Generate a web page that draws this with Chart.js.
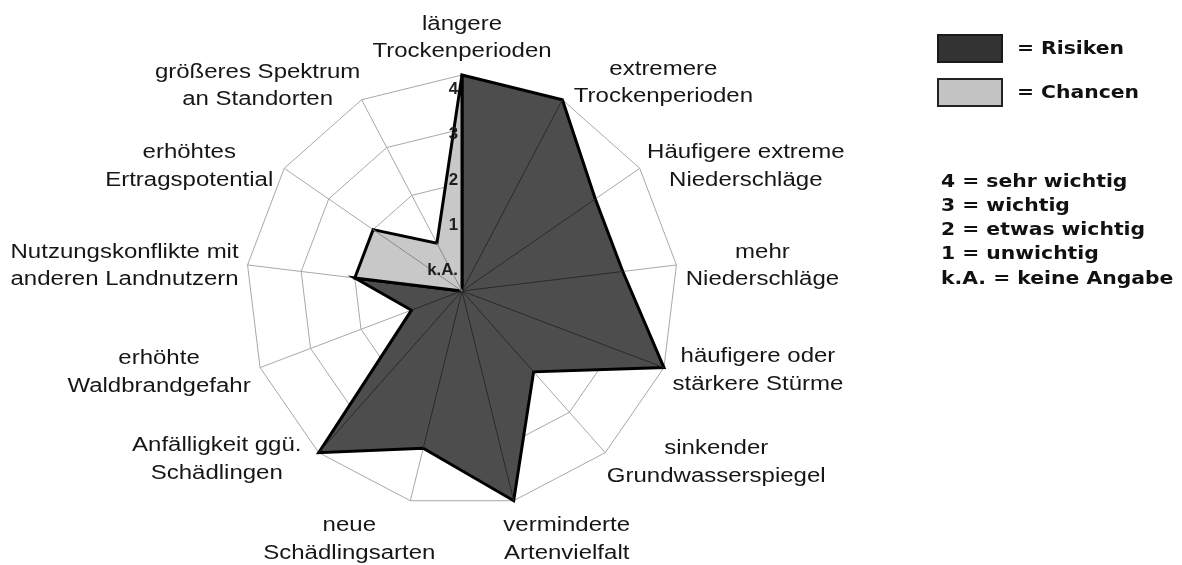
<!DOCTYPE html>
<html lang="de">
<head>
<meta charset="utf-8">
<title>Risiken und Chancen</title>
<script src="https://cdn.jsdelivr.net/npm/chart.js"></script>
<style>
  html, body { margin: 0; padding: 0; background: #fff; }
  #wrap { position: relative; width: 1182px; height: 565px; }
</style>
</head>
<body>
<div id="wrap"><canvas id="radarChart"></canvas></div>
<script>
/* data, 0 = k.A. ... 4 = sehr wichtig */
const categories = [
  ["längere", "Trockenperioden"],
  ["extremere", "Trockenperioden"],
  ["Häufigere extreme", "Niederschläge"],
  ["mehr", "Niederschläge"],
  ["häufigere oder", "stärkere Stürme"],
  ["sinkender", "Grundwasserspiegel"],
  ["verminderte", "Artenvielfalt"],
  ["neue", "Schädlingsarten"],
  ["Anfälligkeit ggü.", "Schädlingen"],
  ["erhöhte", "Waldbrandgefahr"],
  ["Nutzungskonflikte mit", "anderen Landnutzern"],
  ["erhöhtes", "Ertragspotential"],
  ["größeres Spektrum", "an Standorten"],
];
const risiken = [4, 4, 3, 3, 4, 2, 4, 3, 4, 1, 2, 0, 0];
const chancen = [4, 0, 0, 0, 0, 0, 0, 0, 0, 0, 2, 2, 1];
const seriesNames = ["Risiken", "Chancen"];
const tickLabels = ["k.A.", "1", "2", "3", "4"];
const scaleNotes = [
  "4 = sehr wichtig",
  "3 = wichtig",
  "2 = etwas wichtig",
  "1 = unwichtig",
  "k.A. = keine Angabe",
];

/* where each category label sits, relative to the outer corner of its axis */
const labelOffsets = [
  [0, -37], [101, -17], [106, -2], [86, 1], [94, 3], [111, 10], [53, 39],
  [-61, 39], [-102, 7], [-101, 5], [-123, 1], [-95, -2], [-104, -14],
];

const LABEL_FONT = "20px 'Liberation Sans', Arial, sans-serif";
const TICK_FONT = "bold 16px 'Liberation Sans', Arial, sans-serif";
const LEGEND_FONT = "bold 18px 'DejaVu Sans', Verdana, sans-serif";
const legendBoxes = [
  { fill: "#333333", stroke: "#1a1a1a" },
  { fill: "#c4c4c4", stroke: "#222222" },
];

// the original text is a bit wider than the plain font, so stretch it
function wideText(ctx, text, x, y, stretch) {
  ctx.save();
  ctx.translate(x, y);
  ctx.scale(stretch, 1);
  ctx.fillText(text, 0, 0);
  ctx.restore();
}

/* thin spokes that show through the filled areas */
function drawSpokes(chart, ctx, scale) {
  const sets = [
    { index: 0, values: risiken, color: "#2a2a2a" },
    { index: 1, values: chancen, color: "#8a8a8a" },
  ];
  sets.forEach((set) => {
    const meta = chart.getDatasetMeta(set.index);
    const n = set.values.length;
    ctx.strokeStyle = set.color;
    ctx.lineWidth = 1;
    meta.data.forEach((pt, i) => {
      const prev = set.values[(i - 1 + n) % n];
      const next = set.values[(i + 1) % n];
      // skip empty points and spokes that are already an outline edge
      if (set.values[i] === 0 || prev === 0 || next === 0) return;
      ctx.beginPath();
      ctx.moveTo(scale.xCenter, scale.yCenter);
      ctx.lineTo(pt.x, pt.y);
      ctx.stroke();
    });
  });
}

function drawTicks(ctx, scale) {
  ctx.font = TICK_FONT;
  ctx.fillStyle = "#1e1e1e";
  ctx.textAlign = "right";
  ctx.textBaseline = "middle";
  scale.ticks.forEach((tick, i) => {
    const d = 20 + scale.getDistanceFromCenterForValue(tick.value) * 0.84;
    const pos = scale.getPointPosition(0, d);
    wideText(ctx, tickLabels[i], pos.x - 4, pos.y, 1.05);
  });
}

function drawCategoryLabels(ctx, scale) {
  ctx.font = LABEL_FONT;
  ctx.fillStyle = "#161616";
  ctx.textAlign = "center";
  ctx.textBaseline = "middle";
  categories.forEach((lines, i) => {
    const corner = scale.getPointPosition(i, scale.drawingArea);
    const cx = corner.x + labelOffsets[i][0];
    const cy = corner.y + labelOffsets[i][1];
    const lineH = 27.5;
    lines.forEach((line, k) => {
      const y = cy + (k - (lines.length - 1) / 2) * lineH;
      wideText(ctx, line, cx, y, 1.2);
    });
  });
}

function drawLegend(chart, ctx) {
  ctx.font = LEGEND_FONT;
  ctx.textAlign = "left";
  ctx.textBaseline = "middle";
  chart.data.datasets.forEach((ds, i) => {
    const top = 35 + i * 44;
    ctx.fillStyle = legendBoxes[i].fill;
    ctx.fillRect(938, top, 64, 27);
    ctx.strokeStyle = legendBoxes[i].stroke;
    ctx.lineWidth = 2;
    ctx.strokeRect(938, top, 64, 27);
    ctx.fillStyle = "#111";
    wideText(ctx, "= " + ds.label, 1017, top + 14, 1.13);
  });
  ctx.fillStyle = "#111";
  scaleNotes.forEach((note, i) => {
    wideText(ctx, note, 941, 182 + i * 24.25, 1.13);
  });
}

const overlay = {
  id: "overlay",
  afterDatasetsDraw(chart) {
    const ctx = chart.ctx;
    const scale = chart.scales.r;
    ctx.save();
    drawSpokes(chart, ctx, scale);
    drawTicks(ctx, scale);
    ctx.restore();
  },
  afterDraw(chart) {
    const ctx = chart.ctx;
    ctx.save();
    drawCategoryLabels(ctx, chart.scales.r);
    drawLegend(chart, ctx);
    ctx.restore();
  },
};

function makeChart() {
  const target = document.querySelector("#radarChart");
  const config = {
    type: "radar",
    data: {
      labels: categories,
      datasets: [
        {
          label: seriesNames[0],
          data: risiken,
          backgroundColor: "#4d4d4d",
          borderColor: "#000",
          borderWidth: 3,
          borderJoinStyle: "miter",
          pointRadius: 0,
          fill: true,
          order: 1,
        },
        {
          label: seriesNames[1],
          data: chancen,
          backgroundColor: "#c8c8c8",
          borderColor: "#000",
          borderWidth: 3,
          borderJoinStyle: "miter",
          pointRadius: 0,
          fill: true,
          order: 0,
        },
      ],
    },
    options: {
      responsive: true,
      maintainAspectRatio: false,
      animation: false,
      layout: { padding: { left: 246, right: 504, top: 75, bottom: 58 } },
      plugins: {
        legend: { display: false },
        tooltip: { enabled: false },
      },
      elements: { line: { tension: 0 } },
      scales: {
        r: {
          min: 0,
          max: 4,
          startAngle: 0,
          ticks: { display: false, stepSize: 1 },
          pointLabels: { display: false },
          grid: { color: "#a8a8a8", lineWidth: 1 },
          angleLines: { color: "#a8a8a8", lineWidth: 1 },
        },
      },
    },
    plugins: [overlay],
  };
  return new Chart(target, config);
}

document.addEventListener("DOMContentLoaded", () => makeChart());
</script>
</body>
</html>
